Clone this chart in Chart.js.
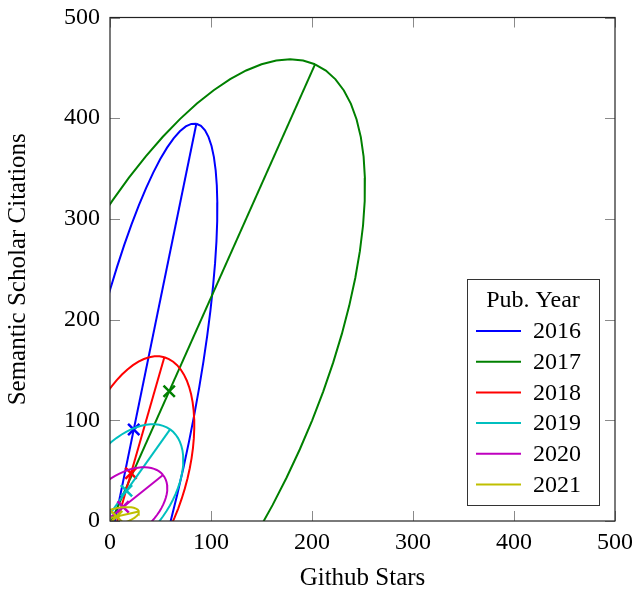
<!DOCTYPE html>
<html><head><meta charset="utf-8">
<script src="https://cdn.jsdelivr.net/npm/chart.js@4"></script>
<style>html,body{margin:0;padding:0;background:#fff}#wrap{width:632px;height:593px;position:relative}</style>
</head><body><div id="wrap"><canvas id="c"></canvas></div>
<script>
// ---- data (data units) ----
const years = ['2016', '2017', '2018', '2019', '2020', '2021'];
const meanStars = [23.5, 58.6, 20.8, 16.3, 13.0, 6.5];
const meanCitations = [90.8, 128.8, 47.4, 30.0, 14.0, 4.5];
const majorTipStars = [85.5, 203.0, 53.8, 59.5, 52.5, 28.5];
const majorTipCitations = [394.5, 453.5, 162.6, 91.0, 45.7, 9.5];
const minorSemiAxis = [56.0, 141.6, 55.4, 44.2, 30.0, 8.0];
const tickValues = [0, 100, 200, 300, 400, 500];

// ---- styles ----
const colors = ['#0000ff', '#008000', '#ff0000', '#00bfbf', '#bf00bf', '#bfbf00'];
const FONT = "'Liberation Serif', 'Times New Roman', serif";

function ellipseOutline(i, n) {
  const cx = meanStars[i], cy = meanCitations[i];
  const ax = majorTipStars[i] - cx, ay = majorTipCitations[i] - cy;
  const a = Math.hypot(ax, ay);
  const bx = ay / a * minorSemiAxis[i], by = -ax / a * minorSemiAxis[i];
  const pts = [];
  for (let k = 0; k <= n; k++) {
    const t = 2 * Math.PI * k / n;
    pts.push({x: cx + ax * Math.cos(t) + bx * Math.sin(t), y: cy + ay * Math.cos(t) + by * Math.sin(t)});
  }
  return pts;
}

const datasets = [];
years.forEach((yr, i) => {
  const c = colors[i];
  const base = 100 - i * 3;
  datasets.push({label: yr, data: ellipseOutline(i, 72), showLine: true, borderColor: c, backgroundColor: c,
    borderWidth: 2, pointRadius: 0, pointHoverRadius: 0, fill: false, tension: 0, clip: 0, order: base, isLegend: true});
  datasets.push({label: yr + ' axis', data: [
      {x: majorTipStars[i], y: majorTipCitations[i]},
      {x: 2 * meanStars[i] - majorTipStars[i], y: 2 * meanCitations[i] - majorTipCitations[i]}],
    showLine: true, borderColor: c, backgroundColor: c, borderWidth: 2, pointRadius: 0, pointHoverRadius: 0,
    fill: false, clip: 0, order: base - 1});
  datasets.push({label: yr + ' mean', data: [{x: meanStars[i], y: meanCitations[i]}], showLine: false,
    borderColor: c, backgroundColor: c, pointStyle: 'crossRot', pointRadius: 8, pointBorderWidth: 2.5,
    clip: 0, order: base - 2});
});

const framePlugin = {
  id: 'frame',
  afterDatasetsDraw(chart) {
    const {ctx, chartArea: a, scales: {x, y}} = chart;
    ctx.save();
    ctx.strokeStyle = '#8a8a8a';
    ctx.lineWidth = 1;
    const L = 10;
    const seg = (x1, y1, x2, y2) => { ctx.beginPath(); ctx.moveTo(x1, y1); ctx.lineTo(x2, y2); ctx.stroke(); };
    x.ticks.forEach(t => {
      const px = Math.round(x.getPixelForValue(t.value)) + 0.5;
      seg(px, a.bottom, px, a.bottom - L);
      seg(px, a.top, px, a.top + L);
    });
    y.ticks.forEach(t => {
      const py = Math.round(y.getPixelForValue(t.value)) + 0.5;
      seg(a.left, py, a.left + L, py);
      seg(a.right, py, a.right - L, py);
    });
    ctx.strokeStyle = '#222';
    ctx.lineWidth = 1.2;
    ctx.strokeRect(a.left, a.top, a.right - a.left, a.bottom - a.top);

    // legend box inside plot area (bottom-right)
    const items = chart.data.datasets.filter(d => d.isLegend);
    const w = 132, rowH = 30.7, h = 226;
    const right = a.right - 16, bottom = a.bottom - 16;
    const left = right - w, top = bottom - h;
    ctx.fillStyle = '#fff';
    ctx.fillRect(left, top, w, h);
    ctx.strokeStyle = '#333';
    ctx.lineWidth = 1;
    ctx.strokeRect(Math.round(left) + 0.5, Math.round(top) + 0.5, w, h);
    ctx.fillStyle = '#000';
    ctx.font = '24px ' + FONT;
    ctx.textBaseline = 'middle';
    ctx.textAlign = 'center';
    ctx.fillText('Pub. Year', left + w / 2, top + 22);
    ctx.textAlign = 'left';
    items.forEach((d, k) => {
      const yy = top + 52 + k * rowH;
      ctx.strokeStyle = d.borderColor;
      ctx.lineWidth = 2;
      seg(left + 9, yy, left + 54, yy);
      ctx.fillStyle = '#000';
      ctx.fillText(d.label, left + 66, yy + 1);
    });
    ctx.restore();
  }
};

new Chart(document.getElementById('c'), {
  type: 'scatter',
  data: {datasets},
  options: {
    responsive: true,
    maintainAspectRatio: false,
    animation: false,
    layout: {padding: {left: 0, right: 17, top: 17.5, bottom: 0}},
    plugins: {legend: {display: false}, tooltip: {enabled: false}},
    scales: {
      x: {
        type: 'linear', min: 0, max: 500,
        afterBuildTicks: s => { s.ticks = tickValues.map(v => ({value: v})); },
        afterFit: s => { s.height = 72; s.paddingLeft = 0; s.paddingRight = 0; },
        grid: {display: false, drawTicks: false},
        border: {display: false},
        ticks: {color: '#000', font: {family: FONT, size: 24}, padding: 7, maxRotation: 0},
        title: {display: true, text: 'Github Stars', color: '#000', font: {family: FONT, size: 25}, padding: {top: 0, bottom: 0}}
      },
      y: {
        type: 'linear', min: 0, max: 500,
        afterBuildTicks: s => { s.ticks = tickValues.map(v => ({value: v})); },
        afterFit: s => { s.width = 110; s.paddingTop = 0; s.paddingBottom = 0; },
        grid: {display: false, drawTicks: false},
        border: {display: false},
        ticks: {color: '#000', font: {family: FONT, size: 24}, padding: 10},
        title: {display: true, text: 'Semantic Scholar Citations', color: '#000', font: {family: FONT, size: 25}, padding: {top: 3, bottom: 0}}
      }
    }
  },
  plugins: [framePlugin]
});
</script>
</body></html>
